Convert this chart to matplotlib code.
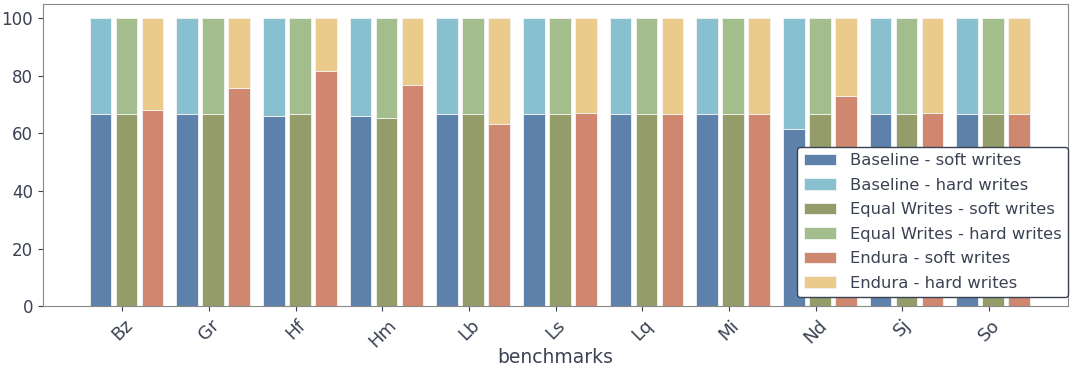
import matplotlib.pyplot as plt
import numpy as np

benchmarks = ["Bz", "Gr", "Hf", "Hm", "Lb", "Ls", "Lq", "Mi", "Nd", "Sj", "So"]

# share of soft writes (%), hard writes make up the rest to 100
baseline_soft = [66.8, 66.9, 66.0, 65.9, 66.6, 66.6, 66.8, 66.8, 61.6, 66.9, 66.9]
equal_soft = [66.8, 66.8, 66.8, 65.5, 66.6, 66.8, 66.8, 66.8, 66.8, 66.8, 66.9]
endura_soft = [68.0, 75.8, 81.5, 76.8, 63.2, 67.2, 66.8, 66.8, 73.1, 67.2, 66.8]

schemes = ["Baseline", "Equal Writes", "Endura"]
soft_colors = ["#5e81ac", "#949c6a", "#d08770"]
hard_colors = ["#88c0d0", "#a3be8c", "#ebcb8b"]
text_color = "#3b4252"

plt.rcParams["font.family"] = "DejaVu Sans"
plt.rcParams["text.color"] = text_color
plt.rcParams["axes.labelcolor"] = text_color
plt.rcParams["xtick.color"] = text_color
plt.rcParams["ytick.color"] = text_color

fig, ax = plt.subplots(figsize=(10.7, 3.7), dpi=100)
x = np.arange(len(benchmarks))
width = 0.25
step = 0.3

for i, soft in enumerate([baseline_soft, equal_soft, endura_soft]):
    soft = np.array(soft)
    hard = 100 - soft
    pos = x - 0.25 + i * step
    ax.bar(pos, soft, width, color=soft_colors[i], edgecolor="#f4f4f4",
           linewidth=0.6, label=f"{schemes[i]} - soft writes")
    ax.bar(pos, hard, width, bottom=soft, color=hard_colors[i],
           edgecolor="#f4f4f4", linewidth=0.6,
           label=f"{schemes[i]} - hard writes")

ax.set_xticks(x)
ax.set_xticklabels(benchmarks, rotation=45, fontsize=13)
ax.tick_params(axis="y", labelsize=12)
ax.set_xlim(-0.916, len(benchmarks) - 1 + 0.91)
ax.set_ylim(0, 105)
ax.set_xlabel("benchmarks", fontsize=13.5, labelpad=-2)

for spine in ax.spines.values():
    spine.set_color("#888888")

handles, labels = ax.get_legend_handles_labels()
leg = ax.legend(handles, labels, loc="lower right", bbox_to_anchor=(1.0, 0.03),
                fontsize=11.8, frameon=True, borderaxespad=0,
                labelspacing=0.58, handlelength=2.0, handletextpad=0.8)
leg.get_frame().set_edgecolor("#3b4252")
leg.get_frame().set_alpha(1)

plt.subplots_adjust(left=0.04, right=0.998, top=0.99, bottom=0.172)
plt.savefig("out.png", dpi=100)
